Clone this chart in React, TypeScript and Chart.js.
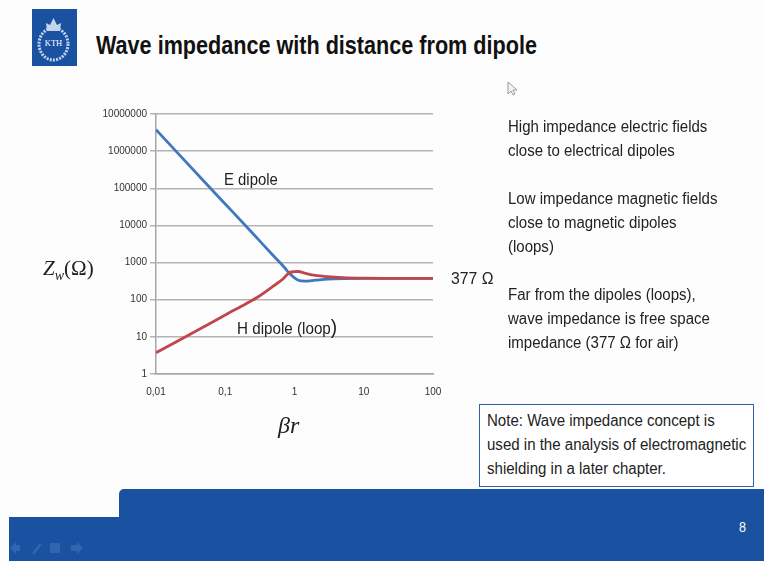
import React, { useEffect, useRef } from "react";
import { Chart, registerables } from "chart.js";

Chart.register(...registerables);

const xValues = [0.01, 0.02, 0.05, 0.1, 0.2, 0.3, 0.5, 0.7, 0.83, 1, 1.13, 1.4, 2, 3, 5, 10, 20, 50, 100];
const eDipole = [3800000, 940000, 150000, 37700, 9500, 4200, 1500, 770, 530, 385, 335, 317, 335, 358, 372, 377, 377, 377, 377];
const hDipole = [3.75, 7.5, 19, 39, 78, 120, 235, 380, 525, 570, 575, 520, 450, 415, 392, 380, 377, 377, 377];
const yTicks = [1, 10, 100, 1000, 10000, 100000, 1000000, 10000000];
const xTicks = [0.01, 0.1, 1, 10, 100];
const xLabels = ["0,01", "0,1", "1", "10", "100"];
const bullets = [
  "High impedance electric fields\nclose to electrical dipoles",
  "Low impedance magnetic fields\nclose to magnetic dipoles\n(loops)",
  "Far from the dipoles (loops),\nwave impedance is free space\nimpedance (377 Ω for air)",
];
const noteText = "Note: Wave impedance concept is\nused in the analysis of electromagnetic\nshielding in a later chapter.";

const SANS = '"Liberation Sans", Arial, sans-serif';
const SERIF = '"Liberation Serif", serif';
const BLUE = "#1a52a1";

const abs = (left: number, top: number, extra: React.CSSProperties = {}): React.CSSProperties => ({
  position: "absolute",
  left,
  top,
  fontFamily: SANS,
  color: "#222",
  whiteSpace: "pre",
  transformOrigin: "left top",
  ...extra,
});

export default function App() {
  const ref = useRef<HTMLCanvasElement | null>(null);

  useEffect(() => {
    const chart = new Chart(ref.current!, {
      type: "line",
      data: {
        datasets: [
          {
            label: "E dipole",
            data: xValues.map((x, i) => ({ x, y: eDipole[i] })),
            borderColor: "#4178bd",
            borderWidth: 2.8,
            pointRadius: 0,
            order: 2,
            cubicInterpolationMode: "monotone",
          },
          {
            label: "H dipole (loop)",
            data: xValues.map((x, i) => ({ x, y: hDipole[i] })),
            borderColor: "#c0464c",
            borderWidth: 2.8,
            pointRadius: 0,
            order: 1,
            cubicInterpolationMode: "monotone",
          },
        ],
      },
      options: {
        animation: false,
        responsive: false,
        layout: { padding: { left: 90, right: 331, top: 114, bottom: 157 } },
        plugins: { legend: { display: false }, tooltip: { enabled: false } },
        scales: {
          x: {
            type: "logarithmic",
            min: 0.01,
            max: 100,
            afterFit: (s: any) => { s.height = 30; },
            afterBuildTicks: (s: any) => { s.ticks = xTicks.map((value) => ({ value })); },
            grid: { display: false, drawTicks: true, tickLength: 5, tickColor: "#a6a6a6" },
            border: { color: "#a6a6a6", width: 1.5 },
            ticks: {
              autoSkip: false,
              maxRotation: 0,
              padding: 7,
              color: "#333",
              font: { family: SANS, size: 10 },
              callback: (v: any) => xLabels[xTicks.indexOf(Number(v))],
            },
          },
          y: {
            type: "logarithmic",
            min: 1,
            max: 10000000,
            afterFit: (s: any) => { s.width = 66; },
            afterBuildTicks: (s: any) => { s.ticks = yTicks.map((value) => ({ value })); },
            grid: { color: "#b3b3b3", lineWidth: 1.5, tickLength: 6 },
            border: { color: "#a6a6a6", width: 1.5 },
            ticks: {
              autoSkip: false,
              padding: 3,
              color: "#333",
              font: { family: SANS, size: 10 },
              callback: (v: any) => String(v),
            },
          },
        },
      },
    } as any);
    return () => chart.destroy();
  }, []);

  const body: React.CSSProperties = { fontSize: 16, lineHeight: "24px", transform: "scaleX(0.938)" };

  return (
    <div style={{ position: "fixed", left: 0, top: 0, width: 764, height: 561, background: "#fdfdfd", overflow: "hidden" }}>
      {/* footer band */}
      <div style={{ position: "absolute", left: 9, top: 517, width: 755, height: 44, background: BLUE }} />
      <div style={{ position: "absolute", left: 119, top: 489, width: 645, height: 40, background: BLUE, borderTopLeftRadius: 5 }} />
      <svg style={{ position: "absolute", left: 9, top: 538 }} width={80} height={20}>
        <g fill="#3066ae">
          <path d="M1 10 L7 4 V7 H11 V13 H7 V16 Z" />
          <path d="M23 15 L31 5 L33 6 L25 17 Z" />
          <rect x="41" y="5" width="10" height="10" />
          <path d="M74 10 L68 4 V7 H62 V13 H68 V16 Z" />
        </g>
      </svg>
      <div style={abs(739, 519, { color: "#fff", fontSize: 14, transform: "scaleX(0.9)" })}>8</div>

      {/* logo */}
      <svg style={{ position: "absolute", left: 32, top: 9 }} width={45} height={57}>
        <rect width={45} height={57} fill={BLUE} />
        <ellipse cx={21.5} cy={35} rx={14.5} ry={16} fill="none" stroke="#c4d4ec" strokeWidth={3} strokeDasharray="2 1.2" />
        <path d="M15 22 L14 14 L18 16 L21.5 9 L25 16 L29 14 L28 22 Z" fill="#c4d4ec" />
        <text x={21.5} y={37} fontSize={8.5} fontFamily="Liberation Serif" fill="#fff" textAnchor="middle">KTH</text>
      </svg>

      {/* title */}
      <div style={abs(96, 31, { fontSize: 25, fontWeight: 700, color: "#111", transform: "scaleX(0.864)" })}>
        Wave impedance with distance from dipole
      </div>

      <canvas ref={ref} width={764} height={561} style={{ position: "absolute", left: 0, top: 0 }} />

      {/* annotations */}
      <div style={abs(224, 171, { fontSize: 16, transform: "scaleX(0.93)" })}>E dipole</div>
      <div style={abs(237, 319, { fontSize: 16, transform: "scaleX(0.95)" })}>
        H dipole (loop<span style={{ fontSize: 20, lineHeight: "16px" }}>)</span>
      </div>
      <div style={abs(451, 269, { fontSize: 17, transform: "scaleX(0.93)" })}>377 Ω</div>
      <div style={abs(43, 256, { fontSize: 21, fontFamily: SERIF, fontStyle: "italic" })}>
        Z<sub style={{ fontSize: 14 }}>w</sub><span style={{ fontStyle: "normal" }}>(Ω)</span>
      </div>
      <div style={abs(278, 412, { fontSize: 24, fontFamily: SERIF, fontStyle: "italic" })}>βr</div>

      {/* right column */}
      <div style={abs(508, 115, body)}>{bullets[0]}</div>
      <div style={abs(508, 187, body)}>{bullets[1]}</div>
      <div style={abs(508, 283, body)}>{bullets[2]}</div>

      {/* note */}
      <div style={abs(479, 404, { width: 275, height: 83, border: "1.5px solid #2f5fa8", background: "#fff", boxSizing: "border-box" })} />
      <div style={abs(487, 409, { ...body, transform: "scaleX(0.94)" })}>{noteText}</div>

      {/* pointer */}
      <svg style={{ position: "absolute", left: 506, top: 81 }} width={12} height={16}>
        <path d="M2 1 V13 L5 10 L7 14 L9 13 L7 9 H11 Z" fill="#f4f4f4" stroke="#999" strokeWidth={1} />
      </svg>
    </div>
  );
}
